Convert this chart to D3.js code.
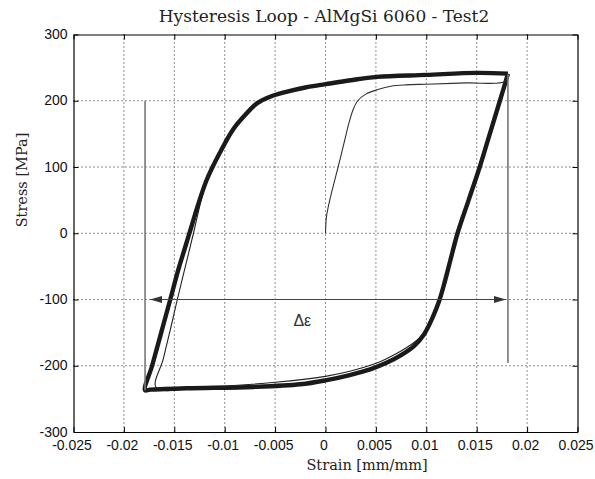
<!DOCTYPE html>
<html><head><meta charset="utf-8">
<script src="https://cdn.jsdelivr.net/npm/d3@7/dist/d3.min.js"></script>
<style>body{margin:0;background:#fff}svg{display:block}</style>
</head><body>
<script>
// ---- data ----
const title = "Hysteresis Loop - AlMgSi 6060 - Test2";
const xLabel = "Strain [mm/mm]";
const yLabel = "Stress [MPa]";
const xTicks = [-0.025,-0.02,-0.015,-0.01,-0.005,0,0.005,0.01,0.015,0.02,0.025];
const xTickLabels = ["-0.025","-0.02","-0.015","-0.01","-0.005","0","0.005","0.01","0.015","0.02","0.025"];
const yTicks = [-300,-200,-100,0,100,200,300];
const yTickLabels = ["-300","-200","-100","0","100","200","300"];

// initial (monotonic) loading, thin
const loadStrain = [0,0.0001,0.0005,0.0010,0.0015,0.0019,0.0023,0.0027,0.0032,0.0040,0.0052,0.0065,0.0080,0.010,0.014,0.0178,0.0181];
const loadStress = [0,25,55,85,115,140,165,185,200,210,217,222,224,225,227,229,240];

// stabilised cycle (thick)
const loopStrain = [0.0181,0.0177,0.0173,0.0163,0.0153,0.0142,0.0131,0.0124,0.0118,0.0113,0.0106,0.0098,0.0088,0.0075,0.0060,0.0045,0.0024,0.0,-0.0025,-0.0072,-0.0138,-0.0174,-0.0179,
                    -0.0172,-0.0163,-0.0154,-0.0146,-0.0139,-0.0133,-0.0127,-0.0118,-0.0105,-0.0092,-0.0080,-0.0068,-0.0055,-0.0040,-0.0020,0,0.0025,0.0051,0.0100,0.0150,0.0181];
const loopStress = [241,220,200,150,100,50,0,-40,-75,-101,-128,-152,-170,-184,-196,-205,-214,-222,-228,-232,-234,-236,-237,
                    -200,-150,-100,-55,-20,10,40,80,121,156,178,196,206,213,220,225,231,236,239,242,241];

// first cycle variant (thin)
const cyc1Strain = [0.0181,0.0153,0.0131,0.0113,0.0097,0.0085,0.0070,0.0051,0.0025,0.0,-0.005,-0.012,-0.0168,-0.0161,-0.0154,-0.0147,-0.0139,-0.0131,-0.0122];
const cyc1Stress = [240,100,0,-101,-152,-168,-182,-196,-208,-216,-225,-232,-233,-190,-146,-100,-50,0,60];

// annotation: strain range
const deltaLeft = -0.0179, deltaRight = 0.0181;
const arrowFrom = -0.0174, arrowTo = 0.0179, arrowStress = -100;
const leftLineTop = 200, leftLineBottom = -237;
const rightLineTop = 240, rightLineBottom = -196;
const deltaLabel = "Δε";
const deltaLabelPos = [-0.0023, -140];

// ---- drawing ----
const W = 595, H = 479;
const svg = d3.select("body").append("svg").attr("width", W).attr("height", H);
const x = d3.scaleLinear().domain([-0.025, 0.025]).range([73.5, 577.5]);
const y = d3.scaleLinear().domain([-300, 300]).range([432, 34.5]);
const serif = "'DejaVu Serif', serif";
const sans = "'Liberation Sans', Arial, sans-serif";

// grid
const grid = svg.append("g").attr("stroke", "#222").attr("stroke-width", 1).attr("stroke-dasharray", "1,3");
xTicks.slice(1, -1).forEach(t => grid.append("line").attr("x1", x(t)).attr("x2", x(t)).attr("y1", y(300)).attr("y2", y(-300)));
yTicks.slice(1, -1).forEach(t => grid.append("line").attr("y1", y(t)).attr("y2", y(t)).attr("x1", x(-0.025)).attr("x2", x(0.025)));

// axes with inward ticks
const fx = d => xTickLabels[xTicks.indexOf(d)];
const fy = d => yTickLabels[yTicks.indexOf(d)];
const axB = svg.append("g").attr("transform", `translate(0,${y(-300)})`)
  .call(d3.axisBottom(x).tickValues(xTicks).tickFormat(fx).tickSizeInner(-5).tickSizeOuter(0).tickPadding(8));
const axT = svg.append("g").attr("transform", `translate(0,${y(300)})`)
  .call(d3.axisTop(x).tickValues(xTicks).tickFormat("").tickSizeInner(-5).tickSizeOuter(0));
const axL = svg.append("g").attr("transform", `translate(${x(-0.025)},0)`)
  .call(d3.axisLeft(y).tickValues(yTicks).tickFormat(fy).tickSizeInner(-5).tickSizeOuter(0).tickPadding(6));
const axR = svg.append("g").attr("transform", `translate(${x(0.025)},0)`)
  .call(d3.axisRight(y).tickValues(yTicks).tickFormat("").tickSizeInner(-5).tickSizeOuter(0));
[axB, axT, axL, axR].forEach(g => {
  g.selectAll("path").attr("stroke", "#000").attr("stroke-width", 1.2);
  g.selectAll("line").attr("stroke", "#000");
  g.selectAll("text").attr("font-family", sans).attr("font-size", 14).attr("fill", "#111");
});
axB.selectAll("text").attr("dx", -2);
axL.selectAll("text").attr("dy", "0.3em");

// curves
const line = d3.line().x(d => x(d[0])).y(d => y(d[1])).curve(d3.curveCatmullRom.alpha(0.5));
const zip = (a, b) => a.map((v, i) => [v, b[i]]);

svg.append("path").datum(zip(cyc1Strain, cyc1Stress)).attr("d", line)
  .attr("fill", "none").attr("stroke", "#222").attr("stroke-width", 1.1);
svg.append("path").datum(zip(loopStrain, loopStress)).attr("d", line)
  .attr("fill", "none").attr("stroke", "#1a1a1a").attr("stroke-width", 4.4).attr("stroke-linejoin", "round");
svg.append("path").datum(zip(loadStrain, loadStress)).attr("d", line)
  .attr("fill", "none").attr("stroke", "#333").attr("stroke-width", 1.1);

// annotation lines
svg.append("line").attr("x1", x(deltaLeft)).attr("x2", x(deltaLeft)).attr("y1", y(leftLineTop)).attr("y2", y(leftLineBottom))
  .attr("stroke", "#777").attr("stroke-width", 1.6);
svg.append("line").attr("x1", x(deltaRight)).attr("x2", x(deltaRight)).attr("y1", y(rightLineTop)).attr("y2", y(rightLineBottom))
  .attr("stroke", "#777").attr("stroke-width", 1.6);
const defs = svg.append("defs");
defs.append("marker").attr("id", "ah").attr("viewBox", "0 0 12 7").attr("refX", 12).attr("refY", 3.5)
  .attr("markerWidth", 12).attr("markerHeight", 7).attr("markerUnits", "userSpaceOnUse").attr("orient", "auto-start-reverse")
  .append("path").attr("d", "M0,0 L12,3.5 L0,7 Z").attr("fill", "#333");
svg.append("line").attr("x1", x(arrowFrom)).attr("x2", x(arrowTo)).attr("y1", y(arrowStress)).attr("y2", y(arrowStress))
  .attr("stroke", "#444").attr("stroke-width", 1.2).attr("marker-start", "url(#ah)").attr("marker-end", "url(#ah)");
svg.append("text").attr("x", x(deltaLabelPos[0])).attr("y", y(deltaLabelPos[1])).attr("text-anchor", "middle")
  .attr("font-family", sans).attr("font-size", 16).attr("fill", "#333").text(deltaLabel);

// titles
svg.append("text").attr("x", 324).attr("y", 22).attr("text-anchor", "middle")
  .attr("font-family", serif).attr("font-size", 17).attr("fill", "#222").text(title);
svg.append("text").attr("x", 367).attr("y", 470).attr("text-anchor", "middle")
  .attr("font-family", serif).attr("font-size", 14.5).attr("fill", "#222").text(xLabel);
svg.append("text").attr("transform", "translate(27,180) rotate(-90)").attr("text-anchor", "middle")
  .attr("font-family", serif).attr("font-size", 14.5).attr("fill", "#222").text(yLabel);
</script>
</body></html>
